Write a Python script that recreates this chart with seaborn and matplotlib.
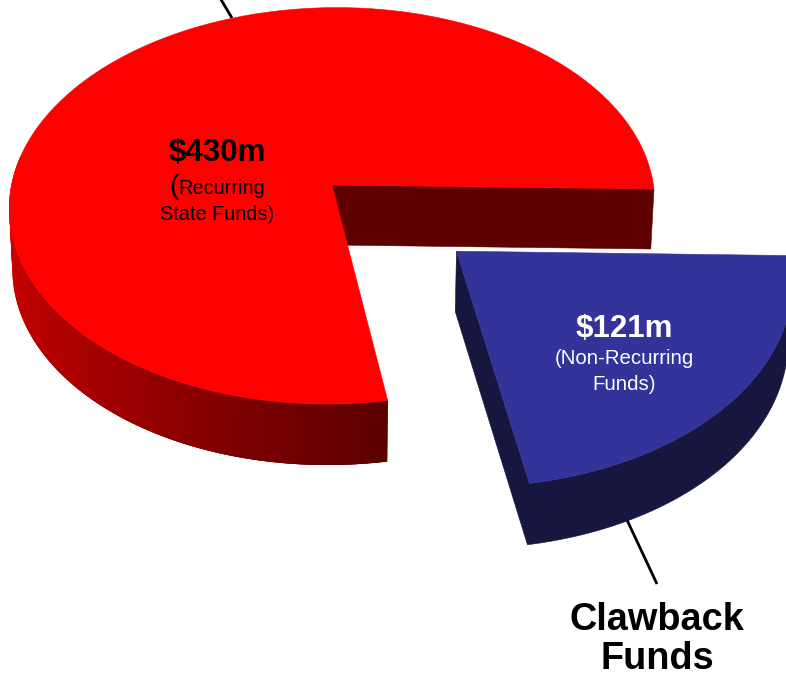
import numpy as np
import matplotlib
matplotlib.use("Agg")
import matplotlib.pyplot as plt
import seaborn as sns
from matplotlib.patches import Polygon

# --- data ---
slice_names = ["Recurring State Funds", "Non-Recurring Funds"]
slice_values = [430, 121]
value_labels = ["$430m", "$121m"]

# --- layout of the tilted disc (pixels) ---
CX, CY = 332, 185
RX, RY = 321, 196
PERSP = -0.105
DEPTH = 60
START = -2.0          # degrees, red slice runs counter-clockwise from here
EXPLODE = 0.5
TILT = -0.009

sns.set_theme(style="white")
plt.rcParams["font.family"] = ["Liberation Sans", "DejaVu Sans"]

fig = plt.figure(figsize=(7.86, 6.77), dpi=100)
ax = fig.add_axes([0, 0, 1, 1])
ax.set_xlim(0, 786)
ax.set_ylim(677, 0)
ax.axis("off")


def project(u, v, lower=False):
    d = 1 + PERSP * v
    x = CX + RX * u / d
    y = CY + RY * v / d + TILT * RX * u / d
    if lower:
        x = CX + (x - CX) * 0.99
        y = y + DEPTH + 1 * v
    return np.column_stack([x, y])


def arc(a0, a1, ox=0.0, oy=0.0, n=240, lower=False):
    t = np.radians(np.linspace(a0, a1, n))
    # plane v grows toward the viewer, so a counter-clockwise angle has -sin
    return project(ox + np.cos(t), oy - np.sin(t), lower)


def apex(ox=0.0, oy=0.0, lower=False):
    return project(np.array([ox]), np.array([oy]), lower)


sweep = np.array(slice_values) / sum(slice_values) * 360
red0, red1 = START, START + sweep[0]
blue0, blue1 = red1, red1 + sweep[1]
bis = np.radians((blue0 + blue1) / 2)
ox, oy = EXPLODE * np.cos(bis), -EXPLODE * np.sin(bis)

RED, RED_CUT = "#ff0000", "#5f0000"
BLUE, BLUE_WALL = "#333399", "#16163f"


def poly(pts, color, z):
    ax.add_patch(Polygon(pts, closed=True, fc=color, ec=color, lw=0.4, zorder=z))


# leader lines
ax.plot([220, 232], [-2, 18], color="black", lw=2, zorder=1, solid_capstyle="butt")
ax.plot([627, 657], [520, 584], color="black", lw=2, zorder=1, solid_capstyle="butt")

# red slice: inner cut wall
top_a, low_a = apex(), apex(lower=True)
top_s = arc(red0, red0, n=1)
low_s = arc(red0, red0, n=1, lower=True)
poly(np.vstack([top_a, top_s, low_s, low_a]), RED_CUT, 2)

# red slice: outer wall with gradient (each band painted over the next)
N = 110
shades = sns.blend_palette(["#e00000", "#a80000", "#5c0000"], N)
edges = np.linspace(170, red1, N + 1)
for i in range(N):
    stop = edges[min(i + 3, N)]
    up = arc(edges[i], stop, n=8)
    lo = arc(edges[i], stop, n=8, lower=True)
    ax.add_patch(Polygon(np.vstack([up, lo[::-1]]), closed=True, fc=shades[i],
                         ec="none", lw=0, zorder=3))

# red top
poly(np.vstack([top_a, arc(red0, red1)]), RED, 4)

# blue slice: walls
b_top, b_low = apex(ox, oy), apex(ox, oy, lower=True)
b_end_t = arc(blue0, blue0, ox, oy, n=1)
b_end_l = arc(blue0, blue0, ox, oy, n=1, lower=True)
wall = np.vstack([b_top, b_low, b_end_l, arc(blue0, blue1, ox, oy, lower=True)[1:],
                  arc(blue1, blue0, ox, oy)])
poly(wall, BLUE_WALL, 5)
poly(np.vstack([b_top, arc(blue0, blue1, ox, oy)]), BLUE, 6)

# text
ax.text(217, 153, value_labels[0], ha="center", va="center", fontsize=22.5,
        fontweight="bold", color="black", zorder=10)
ax.text(169, 194, "(", ha="left", va="baseline", fontsize=20, color="black", zorder=10)
ax.text(222, 188, "Recurring", ha="center", va="center", fontsize=14.4, color="black", zorder=10)
ax.text(217, 215, "State Funds)", ha="center", va="center", fontsize=14.4, color="black", zorder=10)
ax.text(624, 329, value_labels[1], ha="center", va="center", fontsize=22.5,
        fontweight="bold", color="white", zorder=10)
ax.text(624, 359, "(Non-Recurring", ha="center", va="center", fontsize=14.7, color="white", zorder=10)
ax.text(624, 384, "Funds)", ha="center", va="center", fontsize=14.7, color="white", zorder=10)
ax.text(657, 630, "Clawback", ha="center", va="baseline", fontsize=27.3, fontweight="bold",
        color="black", zorder=10)
ax.text(657, 669, "Funds", ha="center", va="baseline", fontsize=27.3, fontweight="bold",
        color="black", zorder=10)

fig.savefig("out.png", dpi=100)
